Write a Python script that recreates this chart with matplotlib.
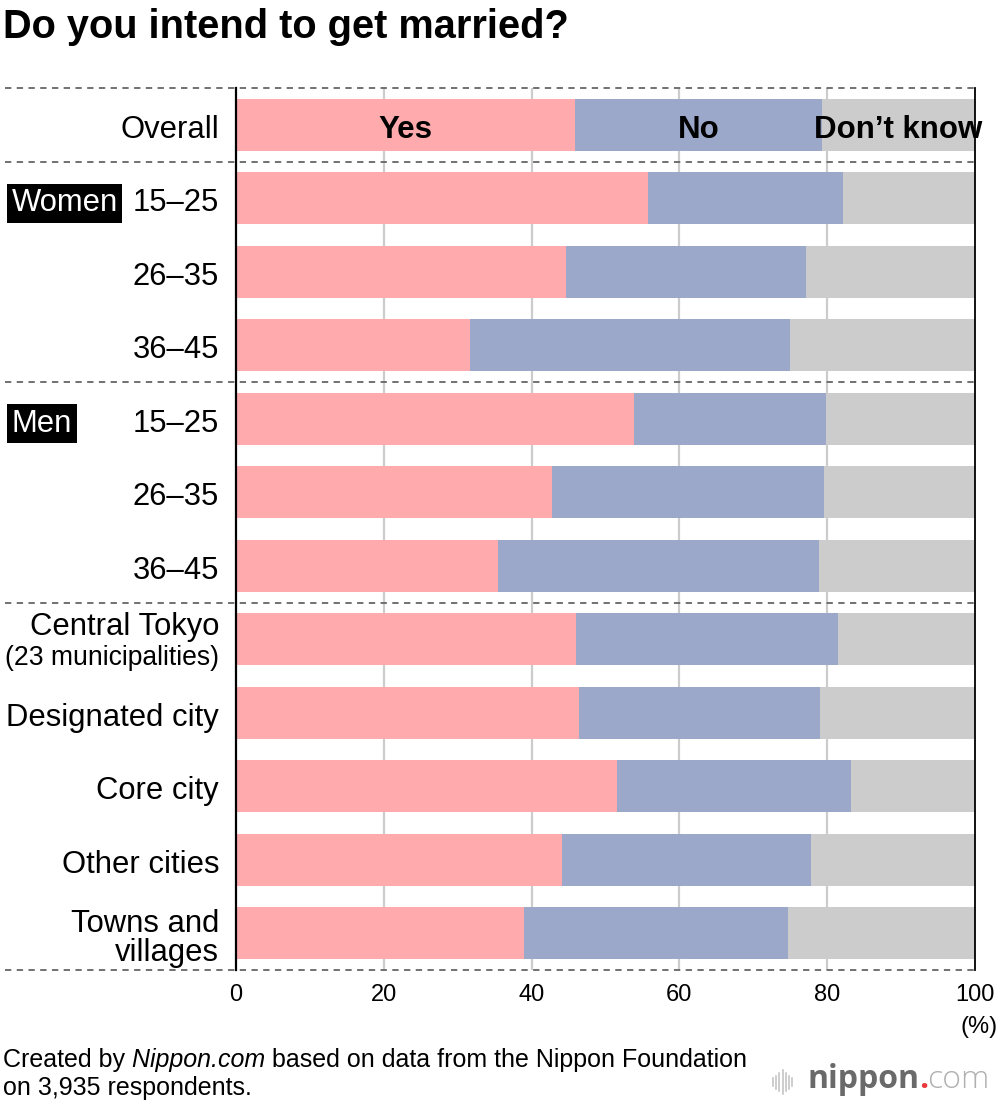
import matplotlib
matplotlib.use("Agg")
import matplotlib.pyplot as plt
from matplotlib.transforms import blended_transform_factory
from matplotlib.lines import Line2D

plt.rcParams['font.family'] = ['Liberation Sans', 'DejaVu Sans']

# ---- data ----
row_labels = ["Overall", "15–25", "26–35", "36–45", "15–25", "26–35", "36–45",
              "Central Tokyo", "Designated city", "Core city", "Other cities",
              "Towns and\nvillages"]
yes_vals = [45.9, 55.8, 44.6, 31.7, 53.9, 42.7, 35.5, 46.0, 46.4, 51.6, 44.1, 39.0]
no_vals = [33.4, 26.4, 32.5, 43.3, 25.9, 36.8, 43.4, 35.5, 32.6, 31.6, 33.7, 35.7]
dk_vals = [100 - y - n for y, n in zip(yes_vals, no_vals)]
series_names = ["Yes", "No", "Don’t know"]
group_names = ["Women", "Men"]
group_rows = [1, 4]
separators = [-0.5, 0.5, 3.5, 6.5, 11.5]
xticks = [0, 20, 40, 60, 80, 100]

colors = ["#FFABAE", "#9BA8CA", "#CCCCCC"]

W, H = 1000, 1106
PX = 73.5  # pixels per row
fig = plt.figure(figsize=(W / 100, H / 100), dpi=100)
ax = fig.add_axes([236 / W, (H - 970) / H, (975 - 236) / W, (970 - 88) / H])

ypos = list(range(len(row_labels)))
bh = 0.71
lefts = [0] * len(ypos)
for vals, c in zip([yes_vals, no_vals, dk_vals], colors):
    ax.barh(ypos, vals, left=lefts, height=bh, color=c, zorder=2, linewidth=0)
    lefts = [l + v for l, v in zip(lefts, vals)]

ax.set_xlim(0, 100)
ax.set_ylim(11.5, -0.5)

for t in xticks[1:-1]:
    ax.axvline(t, color="#cccccc", lw=1.6, zorder=1)

for s in ["top", "bottom"]:
    ax.spines[s].set_visible(False)
ax.spines["left"].set_linewidth(1.6)
ax.spines["right"].set_linewidth(1.3)
for s in ["left", "right"]:
    ax.spines[s].set_color("black")
    ax.spines[s].set_zorder(4)

ax.set_xticks(xticks)
ax.set_xticklabels([str(t) for t in xticks], fontsize=17)
ax.tick_params(axis="x", length=0, pad=10)
ax.set_yticks([])

LFS = 22.3
lab_tr = blended_transform_factory(fig.transFigure, ax.transData)
for y, lab in zip(ypos, row_labels):
    if lab == "Central Tokyo":
        ax.text(219 / W, y - 4 / PX, lab, transform=lab_tr, ha="right",
                va="baseline", fontsize=LFS)
        ax.text(219 / W, y + 26 / PX, "(23 municipalities)", transform=lab_tr,
                ha="right", va="baseline", fontsize=19.1)
    elif "\n" in lab:
        l1, l2 = lab.split("\n")
        ax.text(219 / W, y - 1 / PX, l1, transform=lab_tr, ha="right",
                va="baseline", fontsize=LFS)
        ax.text(219 / W, y + 28 / PX, l2, transform=lab_tr, ha="right",
                va="baseline", fontsize=LFS)
    else:
        ax.text(219 / W, y + 13 / PX, lab, transform=lab_tr, ha="right",
                va="baseline", fontsize=LFS)

for g, r in zip(group_names, group_rows):
    ax.text(11.5 / W, r + 13 / PX, g, transform=lab_tr, ha="left", va="baseline",
            fontsize=LFS, color="white",
            bbox=dict(boxstyle="square,pad=0.15", fc="black", ec="none"))

starts = [0, yes_vals[0], yes_vals[0] + no_vals[0]]
widths = [yes_vals[0], no_vals[0], dk_vals[0]]
for s, w, name in zip(starts, widths, series_names):
    ax.text(s + w / 2, 13 / PX, name, ha="center", va="baseline", fontsize=22.5,
            fontweight="bold", zorder=5, clip_on=False)

for sy in separators:
    fig.add_artist(Line2D([5 / W, 975 / W], [sy, sy], transform=lab_tr,
                          color="#666666", lw=1.3, linestyle=(0, (3.5, 3)),
                          zorder=3))

fig.text(3 / W, 1 - 38 / H, "Do you intend to get married?", ha="left",
         va="baseline", fontsize=28.6, fontweight="bold")

fig.text(998 / W, 1 - 1033 / H, "(%)", ha="right", va="baseline", fontsize=17)

# footer with italic part
fig.canvas.draw()
r = fig.canvas.get_renderer()
FFS = 18
x = 3
for txt, style in [("Created by", "normal"), (" Nippon.com", "italic"),
                   (" based on data from the Nippon Foundation", "normal")]:
    t = fig.text(x / W, 1 - 1067 / H, txt, ha="left", va="baseline",
                 fontsize=FFS, style=style)
    bb = t.get_window_extent(renderer=r)
    x = bb.x1
fig.text(3 / W, 1 - 1095 / H, "on 3,935 respondents.", ha="left", va="baseline",
         fontsize=FFS)

# logo
for i, hh in enumerate([8, 13, 18, 24, 18, 13, 8]):
    xx = (773 + i * 3.2) / W
    fig.add_artist(Line2D([xx, xx], [1 - (1082 - hh / 2) / H, 1 - (1082 + hh / 2) / H],
                          transform=fig.transFigure, color="#c0c0c0", lw=1.1))
LOGO = 23
t1 = fig.text(808 / W, 1 - 1088 / H, "nippon", ha="left", va="baseline",
              fontsize=LOGO, fontweight="bold", color="#6a6a6a", family="Open Sans")
bb = t1.get_window_extent(renderer=r)
t2 = fig.text((bb.x1 - 1) / W, 1 - 1088 / H, ".", ha="left", va="baseline",
              fontsize=LOGO, fontweight="bold", color="#e8383d", family="Open Sans")
bb2 = t2.get_window_extent(renderer=r)
fig.text((bb2.x1 - 1) / W, 1 - 1088 / H, "com", ha="left", va="baseline",
         fontsize=LOGO, fontweight="light", color="#b0b0b0", family="Open Sans")

fig.savefig("out.png", dpi=100)
